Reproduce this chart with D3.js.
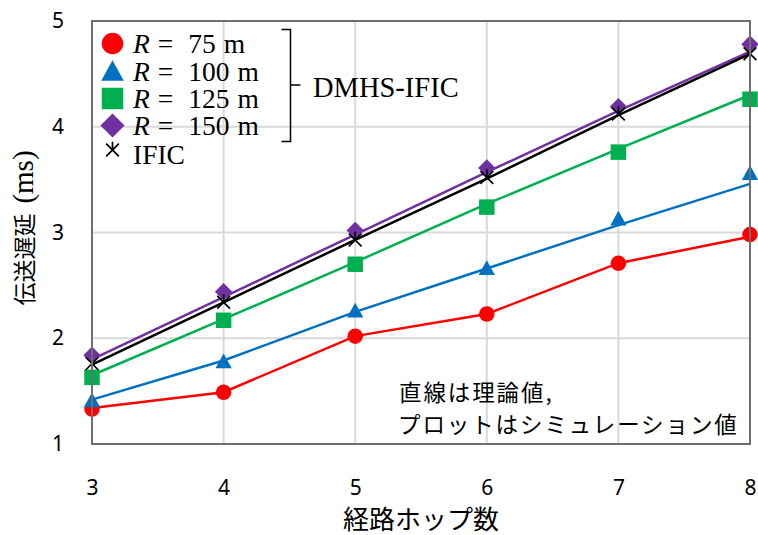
<!DOCTYPE html>
<html>
<head>
<meta charset="utf-8">
<script src="https://cdn.jsdelivr.net/npm/d3@7"></script>
<style>
  html, body { margin: 0; padding: 0; background: #fff; }
  svg { display: block; }
</style>
</head>
<body>
<svg id="chart" width="758" height="535"></svg>
<script>
// Hop counts on the x axis
const hops = [3, 4, 5, 6, 7, 8];

// Theoretical delay (ms), drawn as lines
const theoryR75  = [1.34, 1.49, 2.02, 2.23, 2.71, 2.96];
const theoryR100 = [1.42, 1.79, 2.25, 2.66, 3.07, 3.46];
const theoryR125 = [1.65, 2.18, 2.72, 3.27, 3.79, 4.30];
const theoryR150 = [1.80, 2.39, 2.98, 3.57, 4.15, 4.71];
const theoryIFIC = [1.75, 2.34, 2.93, 3.51, 4.11, 4.69];

// Simulated delay (ms), drawn as markers
const simR75  = [1.33, 1.49, 2.02, 2.23, 2.71, 2.98];
const simR100 = [1.41, 1.78, 2.26, 2.66, 3.13, 3.56];
const simR125 = [1.63, 2.17, 2.70, 3.24, 3.76, 4.26];
const simR150 = [1.84, 2.44, 3.02, 3.61, 4.19, 4.78];
const simIFIC = [1.76, 2.34, 2.93, 3.52, 4.12, 4.69];

const yTicks = [1, 2, 3, 4, 5];
const radii = ["75", "100", "125", "150"];

const series = [
  { name: "R = 75 m",  radius: radii[0], color: "#ff0000", shape: "circle",   theory: theoryR75,  sim: simR75 },
  { name: "R = 100 m", radius: radii[1], color: "#0070c0", shape: "triangle", theory: theoryR100, sim: simR100 },
  { name: "R = 125 m", radius: radii[2], color: "#00b050", shape: "square",   theory: theoryR125, sim: simR125 },
  { name: "R = 150 m", radius: radii[3], color: "#7030a0", shape: "diamond",  theory: theoryR150, sim: simR150 },
  { name: "IFIC",      radius: null,     color: "#000000", shape: "asterisk", theory: theoryIFIC, sim: simIFIC }
];

const svg = d3.select("#chart");
const margin = { left: 92, right: 8, top: 21, bottom: 91 };
const W = 758, H = 535;
const x = d3.scaleLinear().domain([3, 8]).range([margin.left, W - margin.right]);
const y = d3.scaleLinear().domain([1, 5]).range([H - margin.bottom, margin.top]);

const sansFont = "'Noto Sans', 'Noto Sans CJK JP', sans-serif";
const cjkFont = "'Noto Sans CJK JP', sans-serif";
const serifFont = "'Liberation Serif', 'DejaVu Serif', serif";

// Grid
const grid = svg.append("g");
grid.selectAll("line.v").data(hops).join("line")
  .attr("x1", d => x(d)).attr("x2", d => x(d))
  .attr("y1", y(1)).attr("y2", y(5))
  .attr("stroke", "#d9d9d9").attr("stroke-width", 2);
grid.selectAll("line.h").data(yTicks).join("line")
  .attr("x1", x(3)).attr("x2", x(8))
  .attr("y1", d => y(d)).attr("y2", d => y(d))
  .attr("stroke", "#d9d9d9").attr("stroke-width", 2);

// Axes (labels only; the frame is drawn separately)
const xAxis = svg.append("g")
  .attr("transform", `translate(0,${y(1)})`)
  .call(d3.axisBottom(x).tickValues(hops).tickFormat(d3.format("d")).tickSize(0).tickPadding(36));
const yAxis = svg.append("g")
  .attr("transform", `translate(${x(3)},0)`)
  .call(d3.axisLeft(y).tickValues(yTicks).tickFormat(d3.format("d")).tickSize(0).tickPadding(28));
[xAxis, yAxis].forEach(g => {
  g.select(".domain").remove();
  g.selectAll("text").attr("font-family", sansFont).attr("font-size", 21).attr("fill", "#000");
});

// Theory lines
const line = d3.line().x((d, i) => x(hops[i])).y(d => y(d));
svg.append("g").selectAll("path").data(series).join("path")
  .attr("d", s => line(s.theory))
  .attr("fill", "none")
  .attr("stroke", s => s.color)
  .attr("stroke-width", 2.5);

// Marker shapes
function drawMarker(g, shape, color, size) {
  if (shape === "circle") {
    g.append("circle").attr("r", size * 0.5).attr("fill", color);
  } else if (shape === "triangle") {
    const h = size * 0.95, w = size * 1.05;
    g.append("path").attr("d", `M0,${-h * 0.55}L${w / 2},${h * 0.45}L${-w / 2},${h * 0.45}Z`).attr("fill", color);
  } else if (shape === "square") {
    g.append("rect").attr("x", -size / 2).attr("y", -size / 2)
      .attr("width", size).attr("height", size).attr("fill", color);
  } else if (shape === "diamond") {
    const r = size * 0.56;
    g.append("path").attr("d", `M0,${-r}L${r},0L0,${r}L${-r},0Z`).attr("fill", color);
  } else if (shape === "asterisk") {
    const r = size * 0.5;
    g.append("path")
      .attr("d", `M${-r * 0.85},${-r * 0.85}L${r * 0.85},${r * 0.85}M${r * 0.85},${-r * 0.85}L${-r * 0.85},${r * 0.85}M0,0L0,${-r * 1.1}`)
      .attr("stroke", color).attr("stroke-width", 1.7).attr("fill", "none");
  }
}

// Simulation markers
const markerLayer = svg.append("g");
series.forEach(s => {
  s.sim.forEach((v, i) => {
    const g = markerLayer.append("g").attr("transform", `translate(${x(hops[i])},${y(v)})`);
    drawMarker(g, s.shape, s.color, s.shape === "asterisk" ? 15 : 15.5);
  });
});

// Plot frame
svg.append("rect")
  .attr("x", x(3)).attr("y", y(5))
  .attr("width", x(8) - x(3)).attr("height", y(1) - y(5))
  .attr("fill", "none").attr("stroke", "#6f6f6f").attr("stroke-width", 2);

// Legend
const legend = svg.append("g");
const rowY = [43.5, 71.5, 98.5, 125.5, 150];
series.forEach((s, i) => {
  const mg = legend.append("g").attr("transform", `translate(112.5,${rowY[i]})`);
  drawMarker(mg, s.shape, s.color, s.shape === "asterisk" ? 15 : 21.5);
  const t = legend.append("text")
    .attr("x", 133)
    .attr("y", s.radius ? rowY[i] + 9.5 : 164)
    .attr("font-family", serifFont).attr("font-size", 27.5).attr("fill", "#000");
  if (s.radius) {
    t.append("tspan").attr("font-style", "italic").text("R");
    t.append("tspan").attr("dx", 8).text("=");
    t.append("tspan").attr("dx", 15).text(s.radius);
    t.append("tspan").attr("dx", 8).text("m");
  } else {
    t.text(s.name);
  }
});

// Brace grouping the DMHS-IFIC entries
legend.append("path")
  .attr("d", "M281.5,29.5H290.5V141.5H281.5M290.5,85H300.5")
  .attr("fill", "none").attr("stroke", "#000").attr("stroke-width", 1.5);
legend.append("text")
  .attr("x", 313).attr("y", 96.5)
  .attr("font-family", serifFont).attr("font-size", 28.5).attr("fill", "#000")
  .text("DMHS-IFIC");

// Note inside the plot
const note = svg.append("text")
  .attr("font-family", cjkFont).attr("font-size", 22.5).attr("letter-spacing", 1.9).attr("fill", "#000");
note.append("tspan").attr("x", 399).attr("y", 401).text("直線は理論値,");
note.append("tspan").attr("x", 398).attr("y", 433).text("プロットはシミュレーション値");

// Axis titles
svg.append("text")
  .attr("x", 421).attr("y", 529)
  .attr("text-anchor", "middle")
  .attr("font-family", cjkFont).attr("font-size", 26).attr("fill", "#000")
  .text("経路ホップ数");

const yTitle = svg.append("text")
  .attr("transform", "translate(33,228) rotate(-90)")
  .attr("text-anchor", "middle")
  .attr("fill", "#000");
yTitle.append("tspan").attr("font-family", cjkFont).attr("font-size", 23).text("伝送遅延");
yTitle.append("tspan").attr("dx", 10).attr("font-family", serifFont).attr("font-size", 29).text("(ms)");
</script>
</body>
</html>
